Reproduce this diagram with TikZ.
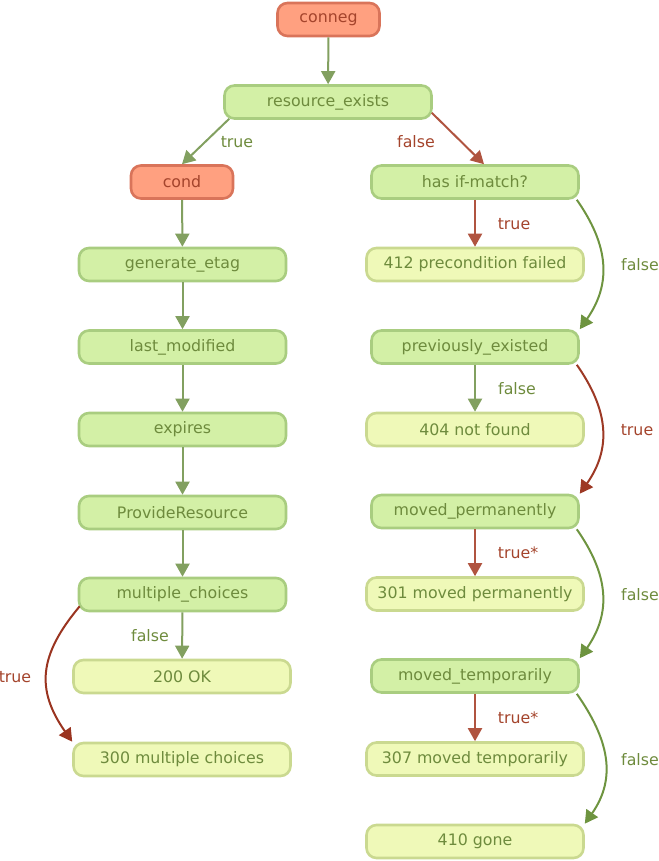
\documentclass[tikz,border=0pt]{standalone}
\usepackage{fontspec}
\setmainfont{DejaVu Sans}
\usetikzlibrary{arrows.meta}
\definecolor{hotfill}{HTML}{FFA080}
\definecolor{hotline}{HTML}{D9745A}
\definecolor{hottext}{HTML}{A4442C}
\definecolor{testfill}{HTML}{D3F0A6}
\definecolor{testline}{HTML}{A9CD80}
\definecolor{leaffill}{HTML}{EFF9B8}
\definecolor{leafline}{HTML}{CAD990}
\definecolor{greentext}{HTML}{6E8B3D}
\definecolor{greenline}{HTML}{82A060}
\definecolor{darkgreen}{HTML}{6E9440}
\definecolor{redline}{HTML}{B05440}
\definecolor{darkred}{HTML}{9A3420}

\begin{document}
\begin{tikzpicture}[x=1pt,y=-1pt,
    base/.style={rounded corners=10pt,line width=2.6pt,minimum height=33pt,inner sep=0pt,
      font=\fontsize{15.8}{18}\selectfont},
    hot/.style={base,fill=hotfill,draw=hotline,text=hottext,minimum width=102pt},
    test/.style={base,fill=testfill,draw=testline,text=greentext,minimum width=207pt},
    leaf/.style={base,fill=leaffill,draw=leafline,text=greentext,minimum width=217pt},
    lbl/.style={font=\fontsize{15.8}{18}\selectfont,text=greentext},
    redlbl/.style={lbl,text=hottext},
    go/.style={-{Triangle[length=13pt,width=14pt]},line width=2pt,draw=greenline},
    stop/.style={go,draw=redline},
    loop/.style={go,draw=darkgreen,looseness=1.1}]
  \useasboundingbox (0,0) rectangle (658,861);

  \node[hot]  (conneg)    at (328.5,19.5) {conneg};
  \node[test] (exists)    at (328,102)    {resource\_exists};
  \node[hot]  (cond)      at (182,182)    {cond};
  \node[test] (ifmatch)   at (475,182)    {has if-match?};
  \node[test] (etag)      at (182.5,264.5) {generate\_etag};
  \node[leaf] (pre412)    at (475,264.5)  {412 precondition failed};
  \node[test] (modified)  at (182.5,347)  {last\_modified};
  \node[test] (existed)   at (475,347)    {previously\_existed};
  \node[test] (expires)   at (182.5,429.5) {expires};
  \node[leaf] (nf404)     at (475,429.5)  {404 not found};
  \node[test] (provide)   at (182.5,512.5) {ProvideResource};
  \node[test] (movedperm) at (475,511.5)  {moved\_permanently};
  \node[test] (choices)   at (182.5,594.5) {multiple\_choices};
  \node[leaf] (mp301)     at (475,594)    {301 moved permanently};
  \node[leaf] (ok200)     at (182,676.5)  {200 OK};
  \node[test] (movedtemp) at (475,676)    {moved\_temporarily};
  \node[leaf] (mc300)     at (182,759.5)  {300 multiple choices};
  \node[leaf] (mt307)     at (475,759)    {307 moved temporarily};
  \node[leaf] (gone410)   at (475,841.5)  {410 gone};

  \draw[go] (conneg) -- (exists);
  \draw[go] ([xshift=6pt,yshift=1pt]exists.south west) -- (cond.north);
  \draw[stop] ([xshift=-1pt,yshift=7pt]exists.south east) -- ([xshift=9pt]ifmatch.north);
  \draw[stop] (ifmatch) -- (pre412);
  \draw[loop] ([xshift=-3pt]ifmatch.south east) to[out=-55,in=55] (existed.north east);
  \draw[go] (existed) -- (nf404);
  \draw[stop,draw=darkred!85!redline,looseness=1.1] ([xshift=-3pt]existed.south east) to[out=-55,in=55] (movedperm.north east);
  \draw[stop] (movedperm) -- (mp301);
  \draw[loop] ([xshift=-3pt]movedperm.south east) to[out=-55,in=55] (movedtemp.north east);
  \draw[stop] (movedtemp) -- (mt307);
  \draw[loop] ([xshift=-3pt]movedtemp.south east) to[out=-55,in=55] (gone410.north east);
  \draw[go] (cond) -- (etag);
  \draw[go] (etag) -- (modified);
  \draw[go] (modified) -- (expires);
  \draw[go] (expires) -- (provide);
  \draw[go] (provide) -- (choices);
  \draw[go] (choices) -- (ok200);
  \draw[stop,draw=darkred,looseness=1.2] ([xshift=2pt,yshift=6pt]choices.south west) to[out=-130,in=125] (mc300.north west);

  \node[lbl]    (t1) at (237,142) {true};
  \node[redlbl] (f1) at (416,142) {false};
  \node[redlbl] (t2) at (514,224) {true};
  \node[lbl]    (f2) at (640,265) {false};
  \node[lbl]    (f3) at (517,389) {false};
  \node[redlbl] (t3) at (637,430) {true};
  \node[redlbl] (t4) at (518,553) {true*};
  \node[lbl]    (f4) at (640,595) {false};
  \node[redlbl] (t5) at (518,718) {true*};
  \node[lbl]    (f5) at (640,760) {false};
  \node[lbl]    (f6) at (150,636) {false};
  \node[redlbl] (t6) at (15,677)  {true};
\end{tikzpicture}
\end{document}
